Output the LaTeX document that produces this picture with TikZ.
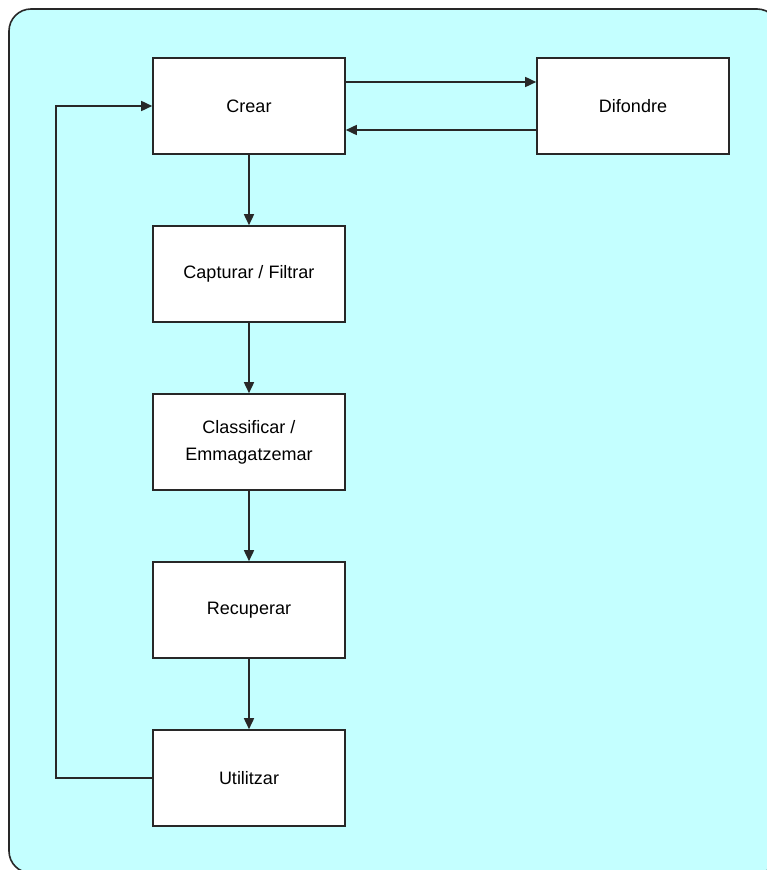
\documentclass[tikz,border=0pt]{standalone}
\usepackage{fontspec}
\setmainfont{Liberation Sans}
\usetikzlibrary{arrows.meta}
\definecolor{panel}{RGB}{196,255,255}
\definecolor{edge}{RGB}{40,40,40}
\begin{document}
\begin{tikzpicture}[x=1pt,y=-1pt,
  stagebox/.style={draw=edge,fill=white,line width=1.6pt,minimum width=192pt,minimum height=96pt,
    align=center,font=\fontsize{18}{27}\selectfont,inner sep=0pt},
  flow/.style={draw=edge,line width=1.6pt,-{Triangle[length=11pt,width=10pt]}}]
  \useasboundingbox (0,0) rectangle (766,870);
  % background panel, running past the right and bottom edges
  \draw[draw=edge,fill=panel,line width=1.6pt,rounded corners=22pt] (9,9) rectangle (779,873);

  \node[stagebox] (crear) at (249,106) {Crear};
  \node[stagebox] (difondre) at (633,106) {Difondre};
  \node[stagebox] (capturar) at (249,274) {Capturar / Filtrar};
  \node[stagebox] (classificar) at (249,442) {Classificar /\\Emmagatzemar};
  \node[stagebox] (recuperar) at (249,610) {Recuperar};
  \node[stagebox] (utilitzar) at (249,778) {Utilitzar};

  \draw[flow] ([yshift=24pt]crear.east) -- ([yshift=24pt]difondre.west);
  \draw[flow] ([yshift=-24pt]difondre.west) -- ([yshift=-24pt]crear.east);
  \draw[flow] (crear) -- (capturar);
  \draw[flow] (capturar) -- (classificar);
  \draw[flow] (classificar) -- (recuperar);
  \draw[flow] (recuperar) -- (utilitzar);
  \draw[flow] (utilitzar.west) -- ++(-96,0) |- (crear.west);
\end{tikzpicture}
\end{document}
